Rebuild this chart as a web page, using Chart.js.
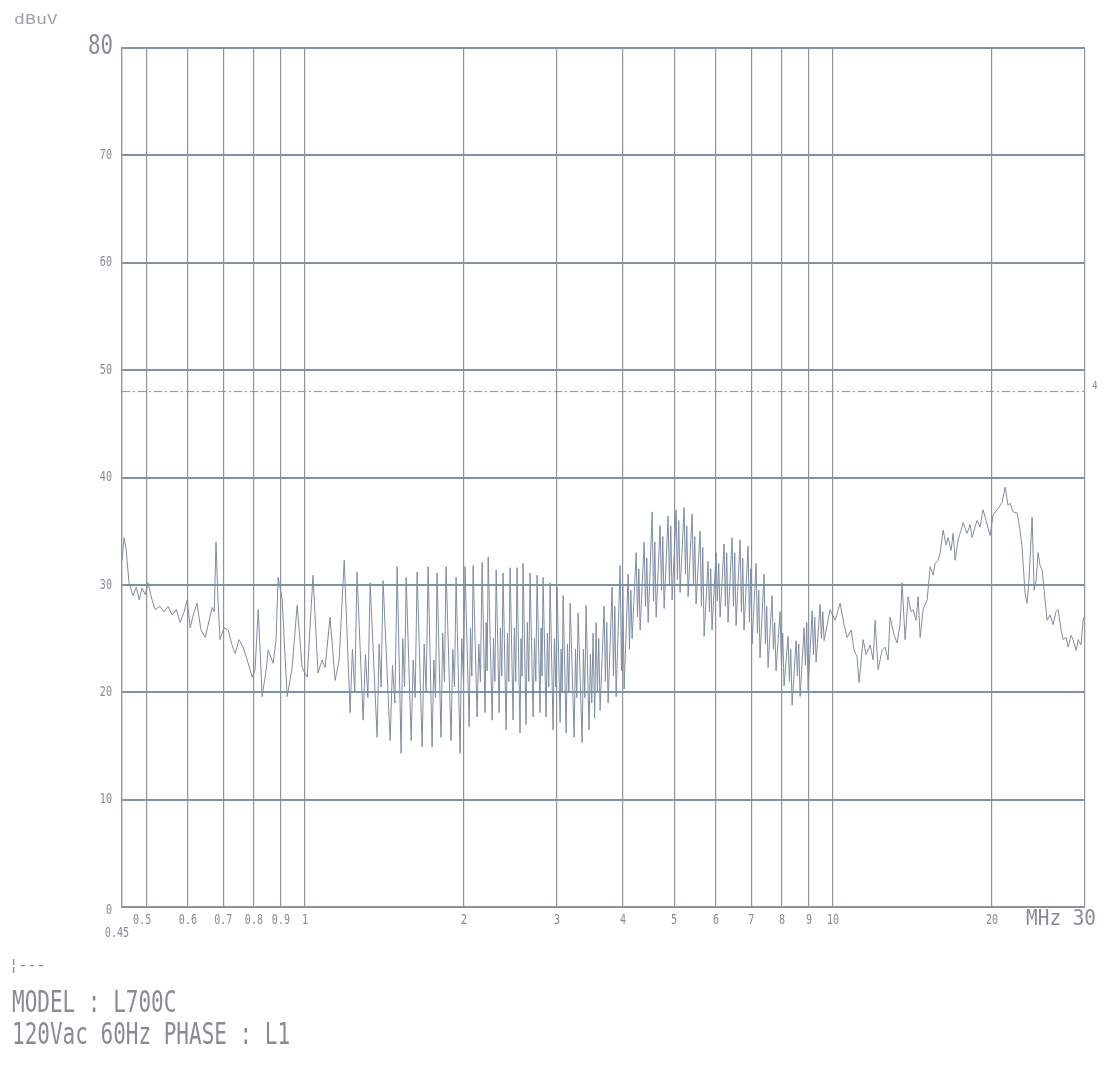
<!DOCTYPE html>
<html>
<head>
<meta charset="utf-8">
<script src="https://cdn.jsdelivr.net/npm/chart.js@4.4.1/dist/chart.umd.min.js"></script>
<style>
  html, body { margin: 0; padding: 0; background: #fff; }
  #wrap { width: 1110px; height: 1073px; position: relative; }
</style>
</head>
<body>
<div id="wrap"><canvas id="emiChart" width="1110" height="1073"></canvas></div>
<script>
// grid / tick values
const xGridFreqs = [0.45, 0.5, 0.6, 0.7, 0.8, 0.9, 1, 2, 3, 4, 5, 6, 7, 8, 9, 10, 20, 30];
const xTickLabels = ['0.45', '0.5', '0.6', '0.7', '0.8', '0.9', '1', '2', '3', '4', '5', '6', '7', '8', '9', '10', '20', 'MHz 30'];
const yTicks = [0, 10, 20, 30, 40, 50, 60, 70, 80];
const limitLevel = 48;

// measured trace (MHz, dBuV) - main peaks / troughs
const traceFreq = [
  0.450, 0.454, 0.458, 0.464, 0.472, 0.479, 0.485, 0.491, 0.498, 0.504,
  0.513, 0.520, 0.531, 0.541, 0.550, 0.560, 0.570, 0.580, 0.590, 0.598,
  0.606, 0.614, 0.624, 0.635, 0.647, 0.658, 0.667, 0.673, 0.678, 0.684,
  0.690, 0.702, 0.715, 0.727, 0.737, 0.750, 0.763, 0.777, 0.794, 0.804,
  0.815, 0.822, 0.829, 0.844, 0.851, 0.870, 0.881, 0.889, 0.905, 0.917,
  0.925, 0.945, 0.966, 0.978, 0.987, 1.009, 1.035, 1.058, 1.077, 1.091,
  1.115, 1.140, 1.160, 1.186,
  1.217, 1.254, 1.288, 1.328, 1.369, 1.405, 1.449, 1.494, 1.520, 1.554,
  1.588, 1.630, 1.666, 1.710, 1.740, 1.778, 1.809, 1.849, 1.890, 1.932,
  1.966, 2.009, 2.045, 2.081, 2.117, 2.164, 2.192, 2.222, 2.261, 2.301,
  2.331, 2.371, 2.403, 2.445, 2.477, 2.520, 2.553, 2.587, 2.621, 2.667,
  2.703, 2.750, 2.786, 2.823, 2.860, 2.911, 2.949, 3.001, 3.041, 3.081,
  3.122, 3.177, 3.233, 3.289, 3.347, 3.405, 3.450, 3.511, 3.535,
  3.557, 3.620, 3.684, 3.749, 3.815, 3.882, 3.951, 4.020, 4.091, 4.163,
  4.237, 4.311, 4.387, 4.464, 4.543, 4.623, 4.703, 4.786, 4.870, 4.956,
  5.043, 5.131, 5.222, 5.314, 5.408, 5.502, 5.599, 5.698, 5.798, 5.899,
  6.003, 6.109, 6.216, 6.325, 6.437, 6.550, 6.666, 6.782, 6.902, 7.024,
  7.147, 7.272, 7.400, 7.531, 7.663, 7.798, 7.936, 8.075, 8.218, 8.363,
  8.509, 8.660, 8.812, 8.967, 9.126, 9.286, 9.450, 9.616,
  9.870, 10.09, 10.31, 10.49, 10.63, 10.82, 10.96, 11.10, 11.20, 11.40,
  11.55, 11.75, 11.91, 12.01, 12.17, 12.38, 12.55, 12.71, 12.82, 13.05,
  13.22, 13.39, 13.51, 13.69, 13.87, 14.05, 14.18, 14.36, 14.49, 14.62,
  14.81, 15.07, 15.27, 15.47, 15.61, 15.81, 15.95, 16.16, 16.37, 16.51,
  16.73, 16.88, 17.03, 17.25, 17.48, 17.63, 17.94, 18.18, 18.34, 18.57,
  18.74, 18.98, 19.23, 19.49, 19.83, 20.09, 20.45, 20.72, 20.90, 21.18,
  21.45, 21.64, 21.93, 22.31, 22.60, 22.80, 23.10, 23.30, 23.50, 23.82,
  24.03, 24.24, 24.45, 24.66, 24.88, 25.10, 25.43, 25.76, 26.10, 26.44,
  26.68, 27.03, 27.27, 27.63, 27.87, 28.23, 28.48, 28.86, 29.11, 29.49,
  29.75, 30.00
];
const traceLevel = [
  32.3, 34.4, 33.4, 30.2, 29.0, 29.8, 28.6, 29.7, 29.1, 30.2,
  28.6, 27.7, 28.0, 27.5, 28.0, 27.2, 27.7, 26.5, 27.5, 28.6,
  26.0, 27.2, 28.3, 25.8, 25.1, 26.7, 27.9, 27.5, 34.0, 28.6,
  24.9, 26.0, 25.8, 24.4, 23.6, 24.9, 24.2, 23.0, 21.4, 22.1,
  27.7, 23.9, 19.6, 22.1, 23.9, 22.7, 24.9, 30.7, 28.6, 23.0,
  19.6, 22.3, 28.1, 24.9, 22.3, 21.4, 30.9, 21.8, 23.0, 22.3,
  27.0, 21.1, 23.0, 32.3,
  18.1, 31.2, 17.4, 30.2, 15.8, 30.4, 15.5, 31.7, 14.3, 30.7,
  15.5, 31.2, 14.9, 31.7, 14.9, 31.1, 15.8, 31.7, 15.5, 30.7,
  14.3, 31.7, 16.8, 31.8, 17.7, 32.1, 18.1, 32.6, 17.4, 31.4,
  18.1, 31.1, 16.5, 31.6, 17.4, 31.6, 16.2, 32.0, 17.0, 31.1,
  17.7, 30.9, 18.1, 30.7, 17.7, 30.2, 16.5, 29.8, 17.2, 29.0,
  16.2, 28.3, 15.8, 27.4, 15.3, 28.1, 16.5, 25.5, 17.6,
  26.5, 18.3, 28.0, 19.0, 29.8, 19.6, 31.8, 20.3, 31.0, 25.0,
  33.0, 25.8, 34.0, 26.5, 36.8, 27.0, 35.5, 27.8, 36.4, 28.6,
  37.0, 29.3, 37.2, 28.9, 36.6, 28.2, 35.0, 25.2, 32.2, 25.8,
  33.0, 27.0, 33.8, 26.5, 34.4, 26.2, 34.2, 25.8, 33.6, 24.5,
  32.0, 23.2, 31.0, 22.3, 29.0, 22.0, 27.5, 20.6, 25.2, 18.8,
  24.8, 19.6, 26.0, 20.2, 27.6, 22.8, 28.2, 24.8,
  27.7, 26.7, 28.3, 26.3, 25.1, 25.8, 23.9, 23.3, 20.9, 24.9,
  23.5, 24.4, 23.0, 26.7, 22.1, 23.9, 24.2, 23.0, 27.0, 25.3,
  24.6, 26.3, 30.2, 24.9, 28.9, 27.5, 27.7, 26.7, 28.9, 25.1,
  27.7, 28.6, 31.7, 30.9, 32.0, 32.3, 33.0, 35.1, 33.7, 34.4,
  33.2, 34.8, 32.3, 34.2, 35.1, 35.8, 34.8, 35.6, 34.4, 35.4,
  36.0, 35.4, 37.0, 36.0, 34.6, 36.5, 37.0, 37.4, 37.7, 39.1,
  37.4, 37.6, 36.8, 36.7, 35.1, 33.5, 29.2, 28.3, 30.4, 36.3,
  29.5, 30.4, 33.0, 31.8, 31.4, 29.5, 26.7, 27.2, 26.3, 27.5,
  27.7, 25.8, 24.9, 25.1, 24.2, 25.3, 24.9, 23.9, 24.9, 24.4,
  26.7, 27.2
];

// secondary ripples between the main peaks (MHz, dBuV)
const rippleFreq = [
  1.229, 1.242, 1.301, 1.315, 1.381, 1.393, 1.464, 1.479, 1.531, 1.543,
  1.602, 1.616, 1.681, 1.695, 1.753, 1.766, 1.822, 1.836, 1.904, 1.918,
  1.980, 1.995, 2.057, 2.069, 2.133, 2.148, 2.202, 2.212, 2.274, 2.288,
  2.344, 2.358, 2.417, 2.431, 2.491, 2.506, 2.564, 2.576, 2.636, 2.652,
  2.719, 2.735, 2.798, 2.811, 2.877, 2.894, 2.966, 2.984, 3.054, 3.068,
  3.140, 3.159, 3.252, 3.270, 3.366, 3.386, 3.470, 3.490,
  3.578, 3.599, 3.705, 3.727, 3.837, 3.860, 3.974, 3.997, 4.115, 4.139,
  4.262, 4.286, 4.413, 4.438, 4.570, 4.596, 4.731, 4.758, 4.899, 4.927,
  5.072, 5.101, 5.253, 5.283, 5.439, 5.470, 5.632, 5.665, 5.832, 5.865,
  6.038, 6.073, 6.252, 6.288, 6.475, 6.512, 6.705, 6.743, 6.943, 6.983,
  7.189, 7.230, 7.444, 7.487, 7.708, 7.753, 7.982, 8.028, 8.266, 8.314,
  8.559, 8.609, 8.864, 8.915, 9.179, 9.232, 9.505, 9.560
];
const rippleLevel = [
  24.0, 20.0, 23.5, 19.5, 24.5, 20.5, 22.5, 19.0, 25.0, 20.5,
  23.0, 19.5, 24.5, 20.0, 23.0, 19.5, 25.5, 21.0, 24.0, 20.5,
  25.0, 21.0, 26.0, 21.5, 24.5, 21.0, 26.5, 22.0, 25.0, 21.0,
  26.0, 21.5, 25.5, 21.0, 26.0, 21.0, 25.0, 21.5, 26.5, 21.0,
  25.0, 21.0, 26.0, 21.5, 25.5, 20.5, 25.0, 20.5, 24.0, 20.0,
  24.5, 20.0, 24.0, 19.5, 24.0, 19.5, 23.5, 19.0,
  20.0, 25.0, 21.0, 26.5, 21.5, 28.0, 22.0, 30.0, 24.0, 29.5,
  27.0, 31.5, 28.0, 32.5, 28.5, 34.0, 29.5, 34.5, 30.0, 35.5,
  30.5, 36.0, 31.0, 35.5, 30.0, 34.5, 28.0, 33.5, 27.5, 31.5,
  28.5, 32.0, 28.0, 33.0, 28.0, 33.0, 27.5, 32.5, 26.5, 31.5,
  25.5, 29.5, 24.5, 28.0, 24.0, 26.5, 22.5, 25.5, 21.0, 24.0,
  21.5, 24.5, 22.5, 26.5, 23.5, 27.0, 25.0, 27.5
];

const TEXT = '#868b94';
const FONT = '"DejaVu Sans Mono", monospace';

function txt(ctx, s, x, y, size, align, sx, color) {
  ctx.save();
  ctx.font = size + 'px ' + FONT;
  ctx.fillStyle = color || TEXT;
  ctx.textBaseline = 'middle';
  ctx.translate(x, y);
  ctx.scale(sx || 0.72, 1);
  ctx.textAlign = align || 'center';
  ctx.fillText(s, 0, 0);
  ctx.restore();
}

const labelPlugin = {
  id: 'plotterLabels',
  afterDraw(chart) {
    const { ctx, scales: { x, y } } = chart;
    // y labels
    yTicks.forEach(v => {
      const py = y.getPixelForValue(v);
      if (v === 80) txt(ctx, '80', 113, py - 1, 27, 'right', 0.77);
      else txt(ctx, String(v), 112, v === 0 ? py + 3 : py, 14, 'right', 0.72);
    });
    // x labels
    xGridFreqs.forEach((f, i) => {
      const px = x.getPixelForValue(f);
      const lab = xTickLabels[i];
      if (f === 0.45) txt(ctx, lab, 117, 933, 14, 'center', 0.72);
      else if (f === 30) txt(ctx, lab, 1096, 919, 22, 'right', 0.88);
      else if (f === 0.5) txt(ctx, lab, px - 4, 920, 14, 'center', 0.72);
      else txt(ctx, lab, px, 920, 14, 'center', 0.72);
    });
    // limit line label
    txt(ctx, '4', 1095, y.getPixelForValue(limitLevel) - 5, 11, 'center', 0.8);
    // header and footer text
    txt(ctx, 'dBuV', 14, 20, 14, 'left', 1.3, '#9ea3ab');
    txt(ctx, '\u00a6---', 9, 966, 16, 'left', 0.95);
    txt(ctx, 'MODEL : L700C', 12, 1004, 30, 'left', 0.7);
    txt(ctx, '120Vac 60Hz PHASE : L1', 12, 1036, 30, 'left', 0.7);
  }
};

// merge main points and ripples in frequency order
const tracePoints = traceFreq.map((f, i) => ({ x: f, y: traceLevel[i] }))
  .concat(rippleFreq.map((f, i) => ({ x: f, y: rippleLevel[i] })))
  .sort((a, b) => a.x - b.x);

new Chart(document.getElementById('emiChart'), {
  type: 'line',
  data: {
    datasets: [
      {
        label: 'trace',
        data: tracePoints,
        borderColor: '#7f8ca2',
        borderWidth: 1,
        pointRadius: 0,
        tension: 0,
      },
      {
        label: 'limit',
        data: [{ x: 0.45, y: limitLevel }, { x: 30, y: limitLevel }],
        borderColor: '#8d929b',
        borderWidth: 1,
        borderDash: [8, 3, 2, 3],
        pointRadius: 0,
      },
    ],
  },
  options: {
    responsive: false,
    animation: false,
    layout: { padding: { left: 122, top: 48, right: 25, bottom: 166 } },
    plugins: { legend: { display: false }, tooltip: { enabled: false } },
    scales: {
      x: {
        type: 'logarithmic',
        min: 0.45,
        max: 30,
        afterBuildTicks: s => { s.ticks = xGridFreqs.map(v => ({ value: v })); },
        ticks: { display: false },
        grid: { color: '#8e939c', lineWidth: 1.2, drawTicks: false },
        border: { color: '#8e939c', width: 1.2 },
      },
      y: {
        min: 0,
        max: 80,
        afterBuildTicks: s => { s.ticks = yTicks.map(v => ({ value: v })); },
        ticks: { display: false },
        grid: { color: '#7a92b0', lineWidth: 2, drawTicks: false },
        border: { color: '#8e939c', width: 1.2 },
      },
    },
  },
  plugins: [labelPlugin],
});
</script>
</body>
</html>
